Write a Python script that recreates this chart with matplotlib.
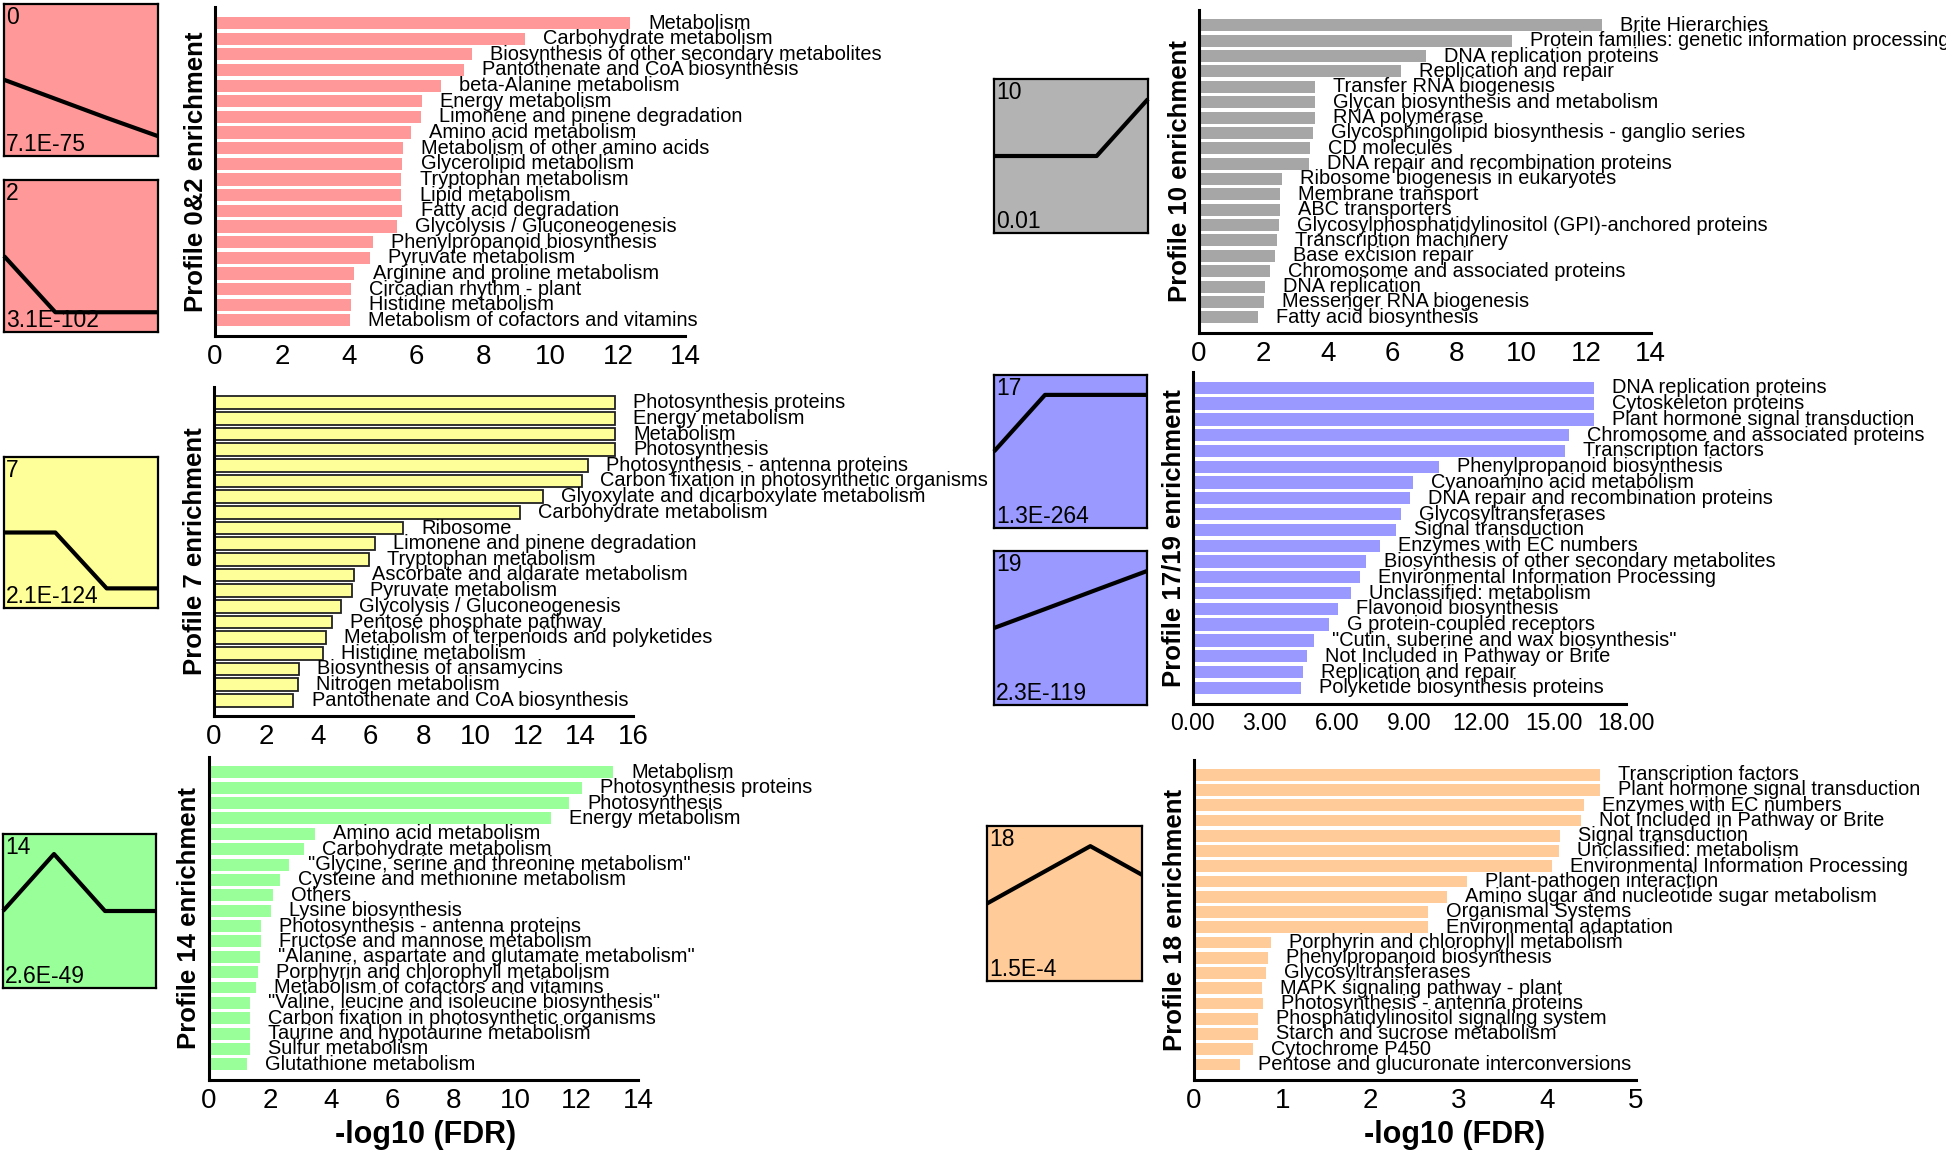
import numpy as np
import matplotlib
matplotlib.use("Agg")
import matplotlib.pyplot as plt
from matplotlib import font_manager

# ---- data ----
p02_terms = ["Metabolism", "Carbohydrate metabolism", "Biosynthesis of other secondary metabolites",
             "Pantothenate and CoA biosynthesis", "beta-Alanine metabolism", "Energy metabolism",
             "Limonene and pinene degradation", "Amino acid metabolism", "Metabolism of other amino acids",
             "Glycerolipid metabolism", "Tryptophan metabolism", "Lipid metabolism", "Fatty acid degradation",
             "Glycolysis / Gluconeogenesis", "Phenylpropanoid biosynthesis", "Pyruvate metabolism",
             "Arginine and proline metabolism", "Circadian rhythm - plant", "Histidine metabolism",
             "Metabolism of cofactors and vitamins"]
p02_vals = [12.37, 9.25, 7.66, 7.42, 6.74, 6.18, 6.15, 5.85, 5.61, 5.59,
            5.56, 5.56, 5.59, 5.42, 4.72, 4.62, 4.16, 4.05, 4.05, 4.02]

p10_terms = ["Brite Hierarchies", "Protein families: genetic information processing", "DNA replication proteins",
             "Replication and repair", "Transfer RNA biogenesis", "Glycan biosynthesis and metabolism",
             "RNA polymerase", "Glycosphingolipid biosynthesis - ganglio series", "CD molecules",
             "DNA repair and recombination proteins", "Ribosome biogenesis in eukaryotes", "Membrane transport",
             "ABC transporters", "Glycosylphosphatidylinositol (GPI)-anchored proteins", "Transcription machinery",
             "Base excision repair", "Chromosome and associated proteins", "DNA replication",
             "Messenger RNA biogenesis", "Fatty acid biosynthesis"]
p10_vals = [12.5, 9.69, 7.03, 6.25, 3.59, 3.59, 3.61, 3.53, 3.44, 3.42,
            2.56, 2.51, 2.51, 2.47, 2.43, 2.36, 2.2, 2.05, 2.01, 1.82]

p7_terms = ["Photosynthesis proteins", "Energy metabolism", "Metabolism", "Photosynthesis",
            "Photosynthesis - antenna proteins", "Carbon fixation in photosynthetic organisms",
            "Glyoxylate and dicarboxylate metabolism", "Carbohydrate metabolism", "Ribosome",
            "Limonene and pinene degradation", "Tryptophan metabolism", "Ascorbate and aldarate metabolism",
            "Pyruvate metabolism", "Glycolysis / Gluconeogenesis", "Pentose phosphate pathway",
            "Metabolism of terpenoids and polyketides", "Histidine metabolism", "Biosynthesis of ansamycins",
            "Nitrogen metabolism", "Pantothenate and CoA biosynthesis"]
p7_vals = [15.31, 15.31, 15.31, 15.31, 14.3, 14.06, 12.55, 11.7, 7.24, 6.15,
           5.94, 5.37, 5.28, 4.85, 4.52, 4.29, 4.17, 3.26, 3.22, 3.05]

p1719_terms = ["DNA replication proteins", "Cytoskeleton proteins", "Plant hormone signal transduction",
               "Chromosome and associated proteins", "Transcription factors", "Phenylpropanoid biosynthesis",
               "Cyanoamino acid metabolism", "DNA repair and recombination proteins", "Glycosyltransferases",
               "Signal transduction", "Enzymes with EC numbers", "Biosynthesis of other secondary metabolites",
               "Environmental Information Processing", "Unclassified: metabolism", "Flavonoid biosynthesis",
               "G protein-coupled receptors", "\"Cutin, suberine and wax biosynthesis\"",
               "Not Included in Pathway or Brite", "Replication and repair", "Polyketide biosynthesis proteins"]
p1719_vals = [16.67, 16.67, 16.67, 15.66, 15.48, 10.25, 9.14, 9.04, 8.66, 8.46,
              7.78, 7.2, 6.94, 6.59, 6.04, 5.68, 5.03, 4.77, 4.6, 4.49]

p14_terms = ["Metabolism", "Photosynthesis proteins", "Photosynthesis", "Energy metabolism",
             "Amino acid metabolism", "Carbohydrate metabolism", "\"Glycine, serine and threonine metabolism\"",
             "Cysteine and methionine metabolism", "Others", "Lysine biosynthesis",
             "Photosynthesis - antenna proteins", "Fructose and mannose metabolism",
             "\"Alanine, aspartate and glutamate metabolism\"", "Porphyrin and chlorophyll metabolism",
             "Metabolism of cofactors and vitamins", "\"Valine, leucine and isoleucine biosynthesis\"",
             "Carbon fixation in photosynthetic organisms", "Taurine and hypotaurine metabolism",
             "Sulfur metabolism", "Glutathione metabolism"]
p14_vals = [13.18, 12.18, 11.75, 11.16, 3.46, 3.11, 2.64, 2.34, 2.09, 2.04,
            1.71, 1.70, 1.68, 1.61, 1.56, 1.36, 1.36, 1.36, 1.36, 1.24]

p18_terms = ["Transcription factors", "Plant hormone signal transduction", "Enzymes with EC numbers",
             "Not Included in Pathway or Brite", "Signal transduction", "Unclassified: metabolism",
             "Environmental Information Processing", "Plant-pathogen interaction",
             "Amino sugar and nucleotide sugar metabolism", "Organismal Systems", "Environmental adaptation",
             "Porphyrin and chlorophyll metabolism", "Phenylpropanoid biosynthesis", "Glycosyltransferases",
             "MAPK signaling pathway - plant", "Photosynthesis - antenna proteins",
             "Phosphatidylinositol signaling system", "Starch and sucrose metabolism", "Cytochrome P450",
             "Pentose and glucuronate interconversions"]
p18_vals = [4.6, 4.6, 4.42, 4.38, 4.14, 4.13, 4.05, 3.09, 2.86, 2.65,
            2.65, 0.87, 0.84, 0.82, 0.77, 0.78, 0.73, 0.73, 0.67, 0.52]

# expression profiles (4 time points, box-relative height) and p-values
profile_ids = ["0", "2", "10", "7", "17", "19", "14", "18"]
profile_shapes = [[0.5, 0.375, 0.25, 0.13], [0.5, 0.13, 0.13, 0.13], [0.5, 0.5, 0.5, 0.87],
                  [0.5, 0.5, 0.13, 0.13], [0.5, 0.87, 0.87, 0.87], [0.5, 0.623, 0.747, 0.87],
                  [0.5, 0.87, 0.5, 0.5], [0.5, 0.685, 0.87, 0.685]]
profile_pvals = ["7.1E-75", "3.1E-102", "0.01", "2.1E-124", "1.3E-264", "2.3E-119", "2.6E-49", "1.5E-4"]

W, H = 1946, 1157
ARIAL = ["Liberation Sans", "DejaVu Sans"]
installed = {f.name for f in font_manager.fontManager.ttflist}
# condensed labels: use a narrow face if there is one, else a smaller regular face
if "Liberation Sans Narrow" in installed:
    NARROW, LABEL_SIZE, NARROW_TICK, XLAB_SIZE = ["Liberation Sans Narrow"] + ARIAL, 15.8, 20, 27
else:
    NARROW, LABEL_SIZE, NARROW_TICK, XLAB_SIZE = ARIAL, 14.4, 16.5, 22
plt.rcParams["font.family"] = ARIAL

fig = plt.figure(figsize=(W / 100, H / 100), dpi=100)


def add_px_axes(x0, y0, x1, y1):
    # pixel box (top-left origin) -> figure axes
    return fig.add_axes([x0 / W, 1 - y1 / H, (x1 - x0) / W, (y1 - y0) / H])


def draw_box(box, shape, pid, pval, color):
    ax = add_px_axes(*box)
    ax.set_facecolor(color)
    ax.plot(range(4), shape, color="black", lw=3, solid_capstyle="butt", clip_on=False)
    ax.set_xlim(0, 3)
    ax.set_ylim(0, 1)
    ax.set_xticks([])
    ax.set_yticks([])
    for s in ax.spines.values():
        s.set_linewidth(1.6)
    ax.text(0.015, 0.985, pid, transform=ax.transAxes, va="top", ha="left", fontsize=16.5)
    ax.text(0.015, 0.0, pval, transform=ax.transAxes, va="bottom", ha="left", fontsize=16.5)


def draw_panel(box, terms, vals, color, xmax, step, ylabel, edge=None, fmt=None,
               ticksize=20, height=0.78):
    ax = add_px_axes(*box)
    y = np.arange(len(terms))
    ax.barh(y, vals, height=height, color=color,
            edgecolor=edge if edge else "none", linewidth=1.3 if edge else 0)
    for yi, v, t in zip(y, vals, terms):
        ax.annotate(t, (v, yi), xytext=(13, 0), textcoords="offset points",
                    va="center", ha="left", fontsize=LABEL_SIZE, family=NARROW, annotation_clip=False)
    ax.set_xlim(0, xmax)
    ax.set_ylim(len(terms), -1)
    ticks = np.arange(0, xmax + 0.001, step)
    ax.set_xticks(ticks)
    if fmt:
        ax.set_xticklabels([fmt % t for t in ticks])
    ax.set_yticks([])
    ax.tick_params(axis="x", length=0, pad=6, labelsize=ticksize)
    for side in ("top", "right"):
        ax.spines[side].set_visible(False)
    for side in ("left", "bottom"):
        ax.spines[side].set_linewidth(2.2)
    ax.set_facecolor("none")
    x0, y0, x1, y1 = box
    fig.text((x0 - 19) / W, 1 - (y0 + y1) / 2 / H, ylabel, rotation=90, ha="center", va="center",
             fontsize=18.5, fontweight="bold")
    return ax


red, gray, gray_box = "#ff9999", "#a6a6a6", "#b3b3b3"
yellow, blue, green, orange = "#ffff99", "#9999ff", "#99ff99", "#ffcc99"

draw_panel((214.7, 7.4, 685, 336), p02_terms, p02_vals, red, 14, 2, "Profile 0&2 enrichment")
draw_panel((1199, 10, 1650.5, 332.6), p10_terms, p10_vals, gray, 14, 2, "Profile 10 enrichment")
draw_panel((213.5, 387, 633, 716), p7_terms, p7_vals, yellow, 16, 2, "Profile 7 enrichment",
           edge="#222222", height=0.82)
ax_d = draw_panel((1192.6, 372, 1625.7, 703.6), p1719_terms, p1719_vals, blue, 18, 3,
                  "Profile 17/19 enrichment", fmt="%.2f", ticksize=NARROW_TICK)
for lab in ax_d.get_xticklabels():
    lab.set_family(NARROW)
draw_panel((208.5, 757, 638, 1079.7), p14_terms, p14_vals, green, 14, 2, "Profile 14 enrichment")
draw_panel((1193.8, 759.5, 1635.6, 1079.7), p18_terms, p18_vals, orange, 5, 1, "Profile 18 enrichment")

box_pos = [(4, 3.5, 158, 156), (4, 180, 158, 332), (994, 79, 1148, 233), (4, 457, 158, 608),
           (994, 375, 1147, 528), (994, 551, 1147, 705), (3, 834, 156, 988), (987, 826, 1142, 981)]
box_col = [red, red, gray_box, yellow, blue, blue, green, orange]
for b, sh, pid, pv, c in zip(box_pos, profile_shapes, profile_ids, profile_pvals, box_col):
    draw_box(b, sh, pid, pv, c)

fig.text(425.7 / W, 1 - 1135.5 / H, "-log10 (FDR)", ha="center", va="center",
         fontsize=XLAB_SIZE, fontweight="bold", family=NARROW)
fig.text(1454.5 / W, 1 - 1135.5 / H, "-log10 (FDR)", ha="center", va="center",
         fontsize=XLAB_SIZE, fontweight="bold", family=NARROW)

fig.savefig("out.png", dpi=100)
